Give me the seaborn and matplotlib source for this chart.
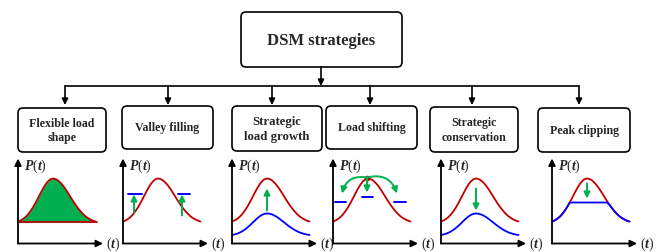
import matplotlib
matplotlib.use("Agg")
import matplotlib.pyplot as plt
import seaborn as sns
from matplotlib.patches import FancyBboxPatch

# --- data: load profiles (px above the time axis) ---
t_grid = [0, 2.5, 5, 7.5, 10, 12.5, 15, 17.5, 20, 22.5, 25, 27.5, 30, 32.5, 35,
          37.5, 40, 42.5, 45, 47.5, 50, 52.5, 55, 57.5, 60, 62.5, 65, 67.5, 70,
          72.5, 75, 77.5]
load_red = [22.0, 23.0, 24.5, 26.5, 29.1, 32.4, 36.2, 40.6, 45.3, 50.2, 54.9,
            59.0, 62.2, 64.3, 65.0, 64.5, 63.1, 60.8, 57.9, 54.4, 50.5, 46.5,
            42.5, 38.7, 35.3, 32.2, 29.5, 27.2, 25.4, 24.0, 22.8, 22.0]
load_low = [8.5, 9.0, 9.8, 10.8, 12.1, 13.7, 15.6, 17.8, 20.2, 22.6, 25.0,
            27.0, 28.6, 29.7, 30.0, 29.8, 29.1, 27.9, 26.5, 24.7, 22.8, 20.8,
            18.8, 16.9, 15.2, 13.6, 12.3, 11.1, 10.2, 9.5, 8.9, 8.5]
load_clipped = [22.0, 23.0, 24.5, 26.5, 29.1, 32.4, 36.2, 40.6, 41.0, 41.0,
                41.0, 41.0, 41.0, 41.0, 41.0, 41.0, 41.0, 41.0, 41.0, 41.0,
                41.0, 41.0, 41.0, 38.7, 35.3, 32.2, 29.5, 27.2, 25.4, 24.0,
                22.8, 22.0]
flex_base = 21.5

valley_t = [11, 59]           # arrows in valley filling
valley_from = [31, 28]
valley_level = 50
valley_dash = [(5, 19), (55, 67)]

shift_dash_t = [(2, 13), (29, 40), (61, 73)]
shift_dash_y = [42, 47, 42]
shift_tips = [(9, 50), (64, 50)]

top_label = "DSM strategies"
strategy_labels = ["Flexible load\nshape", "Valley filling", "Strategic\nload growth",
                   "Load shifting", "Strategic\nconservation", "Peak clipping"]

RED = "#C00000"
BLUE = "#0000FF"
GREEN = "#00B050"

sns.set_style("white")
plt.rcParams["font.family"] = ["Liberation Serif", "DejaVu Serif"]
plt.rcParams["mathtext.fontset"] = "custom"
plt.rcParams["mathtext.rm"] = "Liberation Serif"
plt.rcParams["mathtext.it"] = "Liberation Serif:italic:bold"
plt.rcParams["mathtext.bf"] = "Liberation Serif:bold"

fig = plt.figure(figsize=(6.62, 2.53), dpi=100)
canvas = fig.add_axes([0, 0, 1, 1])
canvas.set_xlim(0, 662)
canvas.set_ylim(253, 0)
canvas.axis("off")


def box(x0, y0, x1, y1, label, size):
    canvas.add_patch(FancyBboxPatch((x0, y0), x1 - x0, y1 - y0,
                                    boxstyle="round,pad=0,rounding_size=5",
                                    fc="white", ec="black", lw=1.2))
    canvas.text((x0 + x1) / 2, (y0 + y1) / 2, label, ha="center", va="center",
                fontsize=size, fontweight="bold", linespacing=1.3)


def down_arrow(x, y0, y1):
    canvas.annotate("", xy=(x, y1), xytext=(x, y0),
                    arrowprops=dict(arrowstyle="-|>", color="black", lw=1.2,
                                    mutation_scale=9, shrinkA=0, shrinkB=0))


# --- tree ---
box(241, 13, 402, 68, top_label, 12)
down_arrow(321, 68, 87)
centers = [65, 168, 272, 370, 472, 579]
canvas.plot([centers[0], centers[-1]], [87, 87], color="black", lw=1.2)
for c in centers:
    down_arrow(c, 87, 106)

box_pos = [(18, 109, 106, 153), (122, 107, 213, 150), (232, 107, 322, 152),
           (326, 107, 417, 150), (430, 108, 518, 153), (538, 109, 630, 153)]
box_size = [8.6, 8.6, 9.2, 8.6, 8.6, 8.6]
for (x0, y0, x1, y1), lab, s in zip(box_pos, strategy_labels, box_size):
    box(x0, y0, x1, y1, lab, s)


# --- mini plots ---
def panel(ox):
    ax = fig.add_axes([ox / 662, (253 - 244.5) / 253, 85 / 662, 85 / 253])
    ax.set_xlim(0, 85)
    ax.set_ylim(0, 85)
    ax.axis("off")
    arrow = dict(arrowstyle="-|>", color="black", lw=1.3, mutation_scale=10,
                 shrinkA=0, shrinkB=0)
    ax.annotate("", xy=(85, 0), xytext=(0, 0), arrowprops=arrow, annotation_clip=False)
    ax.annotate("", xy=(0, 85), xytext=(0, 0), arrowprops=arrow, annotation_clip=False)
    ax.text(6, 78, r"$P(t)$", fontsize=10, va="center", ha="left")
    ax.text(88, 0, r"$(t)$", fontsize=10, va="center", ha="left")
    return ax


def curve(ax, y, color):
    sns.lineplot(x=t_grid, y=y, ax=ax, color=color, lw=1.3)


def green_arrow(ax, x, y0, y1, rad=0.0, x1=None):
    ax.annotate("", xy=(x if x1 is None else x1, y1), xytext=(x, y0),
                arrowprops=dict(arrowstyle="-|>", color=GREEN, lw=1.4,
                                mutation_scale=9, shrinkA=0, shrinkB=0,
                                connectionstyle=f"arc3,rad={rad}"),
                annotation_clip=False)


origins = [18, 123, 232, 333, 441, 552]

# flexible load shape
ax = panel(origins[0])
ax.fill_between(t_grid, flex_base, load_red, color=GREEN, lw=0)
sns.lineplot(x=[t_grid[0], t_grid[-1] + 1], y=[flex_base, flex_base], ax=ax, color=RED, lw=1.3)
curve(ax, load_red, RED)

# valley filling
ax = panel(origins[1])
curve(ax, load_red, RED)
for (a, b) in valley_dash:
    ax.plot([a, b], [valley_level, valley_level], color=BLUE, lw=1.4)
for x, y0 in zip(valley_t, valley_from):
    green_arrow(ax, x, y0, valley_level - 1)

# strategic load growth
ax = panel(origins[2])
curve(ax, load_red, RED)
curve(ax, load_low, BLUE)
green_arrow(ax, t_grid[14], load_low[14] + 3, load_red[14] - 10)

# load shifting
ax = panel(origins[3])
curve(ax, load_red, RED)
for (a, b), yy in zip(shift_dash_t, shift_dash_y):
    ax.plot([a, b], [yy, yy], color=BLUE, lw=1.4)
ax.plot([t_grid[14] - 1], [load_red[14] + 1], "o", color=RED, ms=3)
green_arrow(ax, t_grid[14] - 1, load_red[14], 51)
green_arrow(ax, t_grid[14] - 1, load_red[14] + 1, shift_tips[0][1], rad=0.45, x1=shift_tips[0][0])
green_arrow(ax, t_grid[14] - 1, load_red[14] + 1, shift_tips[1][1], rad=-0.45, x1=shift_tips[1][0])

# strategic conservation
ax = panel(origins[4])
curve(ax, load_red, RED)
curve(ax, load_low, BLUE)
green_arrow(ax, t_grid[14], load_red[14] - 10, load_low[14] + 3)

# peak clipping
ax = panel(origins[5])
curve(ax, load_red, RED)
curve(ax, load_clipped, BLUE)
green_arrow(ax, t_grid[14], load_red[14] - 5, 45)

fig.savefig("out.png", dpi=100)
